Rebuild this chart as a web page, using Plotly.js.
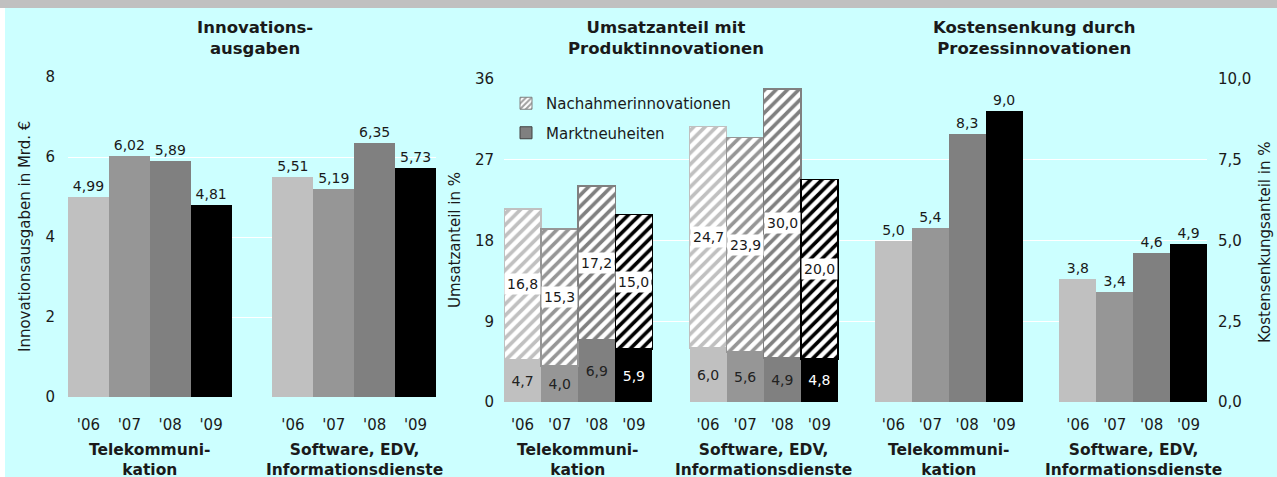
<!DOCTYPE html>
<html>
<head>
<meta charset="utf-8">
<script src="https://cdn.plot.ly/plotly-3.0.1.min.js"></script>
<style>html,body{margin:0;padding:0;background:#fff;}#chart{width:1277px;height:477px;}</style>
</head>
<body>
<div id="chart"></div>
<script>
// ---- data ----
const years = ["'06", "'07", "'08", "'09"];
const sectors = ["Telekommuni-<br>kation", "Software, EDV,<br>Informationsdienste"];
const yearColors = ["#c0c0c0", "#969696", "#808080", "#000000"];

const ausgabenTele = [4.99, 6.02, 5.89, 4.81];
const ausgabenSoft = [5.51, 5.19, 6.35, 5.73];

const marktTele = [4.7, 4.0, 6.9, 5.9];
const marktSoft = [6.0, 5.6, 4.9, 4.8];
const nachTele = [16.8, 15.3, 17.2, 15.0];
const nachSoft = [24.7, 23.9, 30.0, 20.0];

const kostenTele = [5.0, 5.4, 8.3, 9.0];
const kostenSoft = [3.8, 3.4, 4.6, 4.9];

const titles = ["Innovations-<br>ausgaben", "Umsatzanteil mit<br>Produktinnovationen", "Kostensenkung durch<br>Prozessinnovationen"];
const yTitles = ["Innovationsausgaben in Mrd. €", "Umsatzanteil in %", "Kostensenkungsanteil in %"];
const legendNames = ["Nachahmerinnovationen", "Marktneuheiten"];

// ---- layout helpers ----
const W = 1277, H = 477;
const px = v => v / W;
const py = v => 1 - v / H;
const FONT = "DejaVu Sans";
const TXT = "#1a1a1a";

// slot positions: group g, year i -> g*5+i
const pos = [];
sectors.forEach((s, g) => years.forEach((y, i) => pos.push(g * 5 + i)));
const tickText = sectors.flatMap(() => years);
const colors8 = sectors.flatMap(() => yearColors);

const ausgaben = ausgabenTele.concat(ausgabenSoft);
const markt = marktTele.concat(marktSoft);
const nach = nachTele.concat(nachSoft);
const kosten = kostenTele.concat(kostenSoft);

const traces = [];

traces.push({
  type: "bar", x: pos, y: ausgaben, xaxis: "x", yaxis: "y", width: 1,
  marker: {color: colors8, line: {width: 0}},
  texttemplate: "%{y:.2f}", textposition: "outside", cliponaxis: false, constraintext: "none",
  textfont: {family: FONT, size: 14, color: TXT},
  showlegend: false, hoverinfo: "y"
});

traces.push({
  type: "bar", x: pos, y: markt, xaxis: "x2", yaxis: "y2", width: 1, name: legendNames[1],
  marker: {color: colors8, line: {width: 0}},
  texttemplate: "%{y:.1f}", textposition: "inside", insidetextanchor: "middle", textangle: 0,
  constraintext: "none",
  insidetextfont: {family: FONT, size: 14, color: colors8.map(c => c === "#000000" ? "#ffffff" : "#222222")},
  showlegend: false, hoverinfo: "y"
});

traces.push({
  type: "bar", x: pos, y: nach, xaxis: "x2", yaxis: "y2", width: 1, name: legendNames[0],
  marker: {
    color: "#ffffff",
    line: {width: 1.5, color: colors8},
    pattern: {shape: "/", fgcolor: colors8, bgcolor: "#ffffff", size: 8, solidity: 0.45}
  },
  showlegend: false, hoverinfo: "y"
});

// legend entries
traces.push({
  type: "bar", x: [null], y: [null], xaxis: "x2", yaxis: "y2", name: legendNames[0], legendgroup: "a",
  marker: {color: "#ffffff", line: {width: 1, color: "#808080"},
    pattern: {shape: "/", fgcolor: "#a0a0a0", bgcolor: "#ffffff", size: 5, solidity: 0.5}},
  hoverinfo: "skip"
});
traces.push({
  type: "bar", x: [null], y: [null], xaxis: "x2", yaxis: "y2", name: legendNames[1], legendgroup: "b",
  marker: {color: "#808080", line: {width: 1, color: "#404040"}},
  hoverinfo: "skip"
});

traces.push({
  type: "bar", x: pos, y: kosten, xaxis: "x3", yaxis: "y3", width: 1,
  marker: {color: colors8, line: {width: 0}},
  texttemplate: "%{y:.1f}", textposition: "outside", cliponaxis: false, constraintext: "none",
  textfont: {family: FONT, size: 14, color: TXT},
  showlegend: false, hoverinfo: "y"
});

const annotations = [];
// hatched segment labels with white boxes
pos.forEach((p, i) => {
  annotations.push({
    xref: "x2", yref: "y2", x: p, y: markt[i] + nach[i] / 2,
    xanchor: "center", yanchor: "middle",
    text: nach[i].toFixed(1).replace(".", ","), showarrow: false,
    bgcolor: "#ffffff", borderpad: 2,
    font: {family: FONT, size: 14, color: TXT}
  });
});
// panel titles
[255, 666, 1034].forEach((cx, k) => {
  annotations.push({
    xref: "paper", yref: "paper", x: px(cx), y: py(38), xanchor: "center", yanchor: "middle",
    text: "<b>" + titles[k] + "</b>",
    showarrow: false, font: {family: FONT, size: 16.5, color: TXT}
  });
});
// sector labels below each group
["x", "x2", "x3"].forEach(ax => {
  sectors.forEach((s, g) => {
    annotations.push({
      xref: ax, yref: "paper", x: g * 5 + (years.length - 1) / 2, y: py(460),
      xanchor: "center", yanchor: "middle",
      text: "<b>" + s + "</b>", showarrow: false,
      font: {family: FONT, size: 15.5, color: TXT}
    });
  });
});
// y-axis titles
[[25, 237, 0], [455, 240, 1], [1265, 243, 2]].forEach(([cx, cy, k]) => {
  annotations.push({
    xref: "paper", yref: "paper", x: px(cx), y: py(cy), xanchor: "center", yanchor: "middle",
    text: yTitles[k], textangle: -90,
    showarrow: false, font: {family: FONT, size: 15, color: TXT}
  });
});

const xBase = {
  tickmode: "array", tickvals: pos, ticktext: tickText, showgrid: false, zeroline: false,
  showline: false, ticks: "", tickfont: {family: FONT, size: 15, color: TXT}, fixedrange: true
};
const yBase = {
  showgrid: true, gridcolor: "#ffffff", gridwidth: 1, zeroline: false, showline: false, ticks: "",
  tickfont: {family: FONT, size: 15, color: TXT}, fixedrange: true
};

const layout = {
  width: W, height: H,
  margin: {l: 0, r: 0, t: 0, b: 0, pad: 0},
  paper_bgcolor: "#ffffff", plot_bgcolor: "rgba(0,0,0,0)",
  separators: ",.",
  barmode: "stack",
  font: {family: FONT, size: 15, color: TXT},
  xaxis: Object.assign({}, xBase, {domain: [px(68), px(436)], range: [-0.5, 8.5], anchor: "y", ticklabelstandoff: 17}),
  yaxis: Object.assign({}, yBase, {domain: [py(397), py(77)], range: [0, 8], dtick: 2, anchor: "x", ticklabelstandoff: 12}),
  xaxis2: Object.assign({}, xBase, {domain: [px(504), px(875)], range: [-0.5, 9.5], anchor: "y2", ticklabelstandoff: 12}),
  yaxis2: Object.assign({}, yBase, {domain: [py(402), py(79)], range: [0, 36], dtick: 9, anchor: "x2", ticklabelstandoff: 9}),
  xaxis3: Object.assign({}, xBase, {domain: [px(875), px(1207)], range: [-0.5, 8.5], anchor: "y3", ticklabelstandoff: 12}),
  yaxis3: Object.assign({}, yBase, {domain: [py(402), py(79)], range: [0, 10], dtick: 2.5, tickformat: ".1f",
    side: "right", anchor: "x3", ticklabelstandoff: 10}),
  legend: {
    x: px(506), y: py(87), xanchor: "left", yanchor: "top",
    bgcolor: "rgba(0,0,0,0)", borderwidth: 0,
    traceorder: "grouped", tracegroupgap: 7,
    font: {family: FONT, size: 15, color: TXT}
  },
  shapes: [
    {type: "rect", xref: "paper", yref: "paper", x0: 0, x1: 1, y0: py(8), y1: 1,
      fillcolor: "#c0c0c0", line: {width: 0}, layer: "below"},
    {type: "rect", xref: "paper", yref: "paper", x0: px(5), x1: 1, y0: 0, y1: py(8),
      fillcolor: "#ccffff", line: {width: 0}, layer: "below"}
  ],
  annotations: annotations,
  hovermode: false
};

Plotly.newPlot("chart", traces, layout, {displayModeBar: false, staticPlot: true});
</script>
</body>
</html>
